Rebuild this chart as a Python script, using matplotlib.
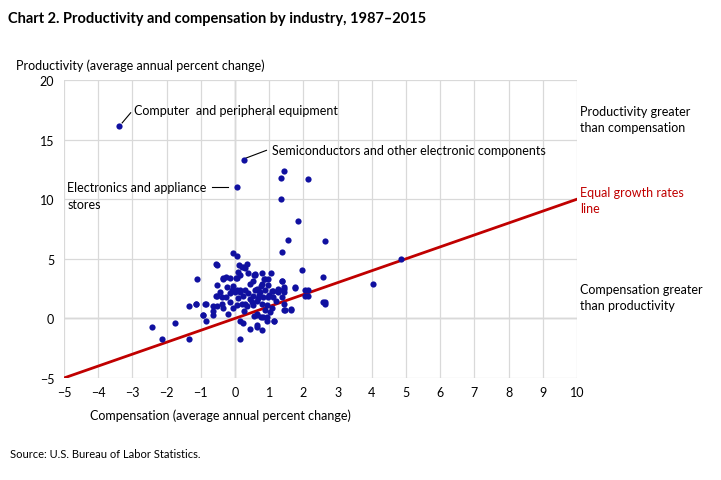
import matplotlib.pyplot as plt

plt.rcParams['font.family'] = ['Lato', 'DejaVu Sans']

# industry points: compensation vs productivity (average annual percent change)
comp = [
    -3.39, 0.26, 0.06, 1.43, 1.35, 2.13, 1.35, 1.84, 1.55, 2.63,
    4.85, 4.04, 2.57, 2.63, 2.63, 1.96, 1.37, 1.75, 2.05, 2.13,
    2.05, 1.43, 1.64, 1.37, 1.43, 1.43, 1.37, 1.43,
    -2.43, -2.13, -1.75, -1.35, -1.35, -1.14, -1.11, -0.85, -0.56, 0.15,
    -0.06, 0.06, -0.53, -0.53, -0.26, -0.35, -0.15, 0.12, 0.20, 0.35,
    0.30, 0.38, 0.09, 0.06, 0.15, 0.58, 0.53, 0.44, -0.23, -0.09,
    0.06, 0.15, 0.30, 0.64, 1.05, 0.79, 0.58, 0.88, 0.96, 1.37,
    0.76, 0.96, 1.26, 1.43, 1.75, 0.67, 1.11,
    -0.53, -0.38, -0.26, -0.15, -0.38, -0.35, -0.53, -0.64, -0.64, -0.88,
    -1.14, -0.94, -0.85, -0.20, -0.06, 0.06, 0.20, 0.35, 0.53, -0.15,
    0.00, 0.15, 0.23, 0.38, 0.53, 0.64, 0.15, 0.23, 0.44,
    0.64, 0.30, 0.58, 0.73, 0.88, 1.08, 1.26, 1.40, 0.67, 0.82,
    0.96, 1.11, 0.79, 0.94, 1.08, 0.88, 1.02, 1.46, 1.64, 0.64,
    0.64, 0.82, 0.94, 1.14, 0.64, 0.79, 2.13, 2.57, 0.56, 0.76,
    -0.64, -0.56, -0.94, 0.26, 0.56, 0.94, 1.14, 0.03, -0.35, 0.85,
    0.45, 0.70, 1.20, -0.45, 0.10, 0.50, 1.00, 0.25, -0.05, 0.80,
]
prod = [
    16.1, 13.25, 11.0, 12.4, 11.8, 11.7, 10.0, 8.2, 6.6, 6.5,
    5.0, 2.9, 3.5, 1.4, 1.25, 4.1, 5.6, 2.6, 2.4, 2.4,
    1.9, 0.7, 0.75, 3.1, 2.2, 2.5, 1.8, 1.25,
    -0.75, -1.7, -0.4, -1.75, 1.0, 1.25, 3.3, 1.2, 4.6, -1.75,
    5.5, 5.2, 4.5, 2.8, 3.5, 3.3, 3.35, 4.5, 4.3, 4.6,
    4.2, 3.8, 3.9, 3.4, 3.6, 3.6, 3.1, 2.9, 2.6, 2.4,
    2.35, 2.4, 2.35, 2.5, 3.85, 3.85, 3.75, 3.3, 3.3, 3.15,
    2.7, 2.8, 2.5, 2.6, 2.55, 2.35, 2.3,
    1.9, 1.8, 1.8, 1.4, 1.25, 0.85, 1.0, 0.65, 0.3, 1.25,
    1.2, 0.25, -0.25, 0.4, 0.85, 1.1, 1.2, 1.0, 1.1, 2.1,
    2.25, 2.2, 1.9, 2.1, 1.9, 1.5, -0.25, -0.35, -0.85,
    -0.75, 1.25, 2.35, 2.25, 2.35, 2.3, 2.25, 2.35, 1.7, 1.8,
    1.8, 1.8, 1.25, 1.1, 0.85, 0.7, 0.5, 0.7, 0.7, 0.4,
    0.25, 0.15, -0.25, -0.25, -0.55, -1.0, 1.9, 1.35, 0.17, 0.15,
    1.0, 1.9, 0.3, 4.35, 3.6, 0.15, -0.25, 3.4, 3.4, 3.3,
    1.6, 2.0, 1.5, 2.2, 1.7, 1.4, 2.0, 0.6, 2.7, 2.9,
]

x_ticks = list(range(-5, 11))
y_ticks = [-5, 0, 5, 10, 15, 20]

fig = plt.figure(figsize=(7.21, 4.81), dpi=100)
ax = fig.add_axes([64 / 721, 1 - 379 / 481, (577 - 64) / 721, (379 - 81) / 481])

ax.set_xlim(-5, 10)
ax.set_ylim(-5, 20)
ax.set_xticks(x_ticks)
ax.set_yticks(y_ticks)
ax.grid(True, color='#d9d9d9', linewidth=0.9, zorder=0)
ax.axvline(0, color='#bfbfbf', linewidth=1, zorder=0.5)
ax.axhline(0, color='#bfbfbf', linewidth=1, zorder=0.5)
for s in ax.spines.values():
    s.set_visible(False)
ax.tick_params(length=0, labelsize=9, colors='black', pad=7)
ax.tick_params(axis='x', pad=6)

# equal growth rates line
ax.plot([-5, 10], [-5, 10], color='#c00000', linewidth=2, zorder=2)
ax.scatter(comp, prod, s=20, color='#1010a0', zorder=3, linewidths=0)

# annotations
ax.plot([-3.3, -3.05], [16.4, 17.25], color='black', linewidth=0.8)
ax.text(-2.95, 17.5, 'Computer  and peripheral equipment', fontsize=9, va='center')
ax.plot([0.32, 0.92], [13.45, 14.1], color='black', linewidth=0.8)
ax.text(1.08, 14.1, 'Semiconductors and other electronic components', fontsize=9, va='center')
ax.plot([-0.67, -0.2], [11.0, 11.0], color='black', linewidth=0.8)
ax.text(-4.9, 11.0, 'Electronics and appliance', fontsize=9, va='center')
ax.text(-4.9, 9.6, 'stores', fontsize=9, va='center')

fig.text(580 / 721, 1 - 120 / 481, 'Productivity greater\nthan compensation', fontsize=9,
         va='center', linespacing=1.35)
fig.text(580 / 721, 1 - 201 / 481, 'Equal growth rates\nline', fontsize=9, color='#c00000',
         va='center', linespacing=1.35)
fig.text(580 / 721, 1 - 298 / 481, 'Compensation greater\nthan productivity', fontsize=9,
         va='center', linespacing=1.35)

fig.text(8 / 721, 1 - 19 / 481, 'Chart 2. Productivity and compensation by industry, 1987–2015',
         fontsize=10.5, fontweight='bold', va='center')
fig.text(16 / 721, 1 - 66 / 481, 'Productivity (average annual percent change)', fontsize=9,
         va='center')
fig.text(90 / 721, 1 - 416 / 481, 'Compensation (average annual percent change)', fontsize=9,
         va='center')
fig.text(10 / 721, 1 - 455 / 481, 'Source: U.S. Bureau of Labor Statistics.', fontsize=8,
         va='center')

fig.savefig('out.png', dpi=100)
